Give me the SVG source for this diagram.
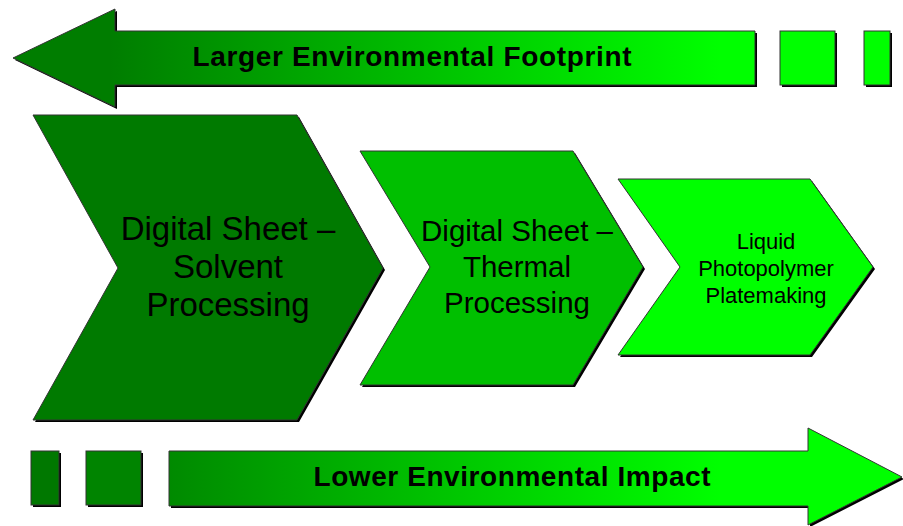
<svg xmlns="http://www.w3.org/2000/svg" xmlns:xlink="http://www.w3.org/1999/xlink" width="903" height="526" viewBox="0 0 903 526">
<defs>
<linearGradient id="gTop" gradientUnits="userSpaceOnUse" x1="110" y1="0" x2="720" y2="0">
<stop offset="0" stop-color="#007d00"/>
<stop offset="1" stop-color="#00ff00"/>
</linearGradient>
<linearGradient id="gBot" gradientUnits="userSpaceOnUse" x1="170" y1="0" x2="720" y2="0">
<stop offset="0" stop-color="#008a00"/>
<stop offset="1" stop-color="#00ff00"/>
</linearGradient>
<path id="topArrow" d="M13,58 L115,9 L115,31 L755,31 L755,85 L115,85 L115,107 Z"/>
<path id="botArrow" d="M169,451 L808,451 L808,428 L902,477 L808,525 L808,506 L169,506 Z"/>
<path id="chev1" d="M33,115 L297,115 L383,268 L297,420 L33,420 L118,268 Z"/>
<path id="chev2" d="M360,151 L573,151 L643,267 L573,385 L360,385 L430,267 Z"/>
<path id="chev3" d="M618,179 L810,179 L873,267 L810,355 L618,355 L680,267 Z"/>
</defs>
<style>
.sh{fill:#000}
.ol{stroke:#333;stroke-width:1}
.lbl{font-family:"Liberation Sans",Arial,sans-serif;fill:#000;text-anchor:middle}
.bar{font-family:"Liberation Sans",Arial,sans-serif;font-weight:bold;fill:#000;font-size:28px;text-anchor:middle}
</style>
<g id="top-arrow">
<use xlink:href="#topArrow" class="sh" transform="translate(2,2)"/>
<use xlink:href="#topArrow" fill="url(#gTop)" class="ol"/>
<rect x="782" y="33" width="55" height="54" class="sh"/>
<rect x="780" y="31" width="55" height="54" fill="#00ff00" class="ol"/>
<rect x="866" y="33" width="26" height="54" class="sh"/>
<rect x="864" y="31" width="26" height="54" fill="#00ff00" class="ol"/>
<text x="412" y="66" class="bar" textLength="439" lengthAdjust="spacing">Larger Environmental Footprint</text>
</g>
<g id="node-solvent">
<use xlink:href="#chev1" class="sh" transform="translate(2,2)"/>
<use xlink:href="#chev1" fill="#007a00" class="ol"/>
<text class="lbl" font-size="33" x="228"><tspan x="228" y="240">Digital Sheet –</tspan><tspan x="228" y="278">Solvent</tspan><tspan x="228" y="316">Processing</tspan></text>
</g>
<g id="node-thermal">
<use xlink:href="#chev2" class="sh" transform="translate(2,2)"/>
<use xlink:href="#chev2" fill="#00bf00" class="ol"/>
<text class="lbl" font-size="29.5" x="517"><tspan x="517" y="241">Digital Sheet –</tspan><tspan x="517" y="277">Thermal</tspan><tspan x="517" y="313">Processing</tspan></text>
</g>
<g id="node-liquid">
<use xlink:href="#chev3" class="sh" transform="translate(2,2)"/>
<use xlink:href="#chev3" fill="#00ff00" class="ol"/>
<text class="lbl" font-size="22" x="766"><tspan x="766" y="249">Liquid</tspan><tspan x="766" y="276">Photopolymer</tspan><tspan x="766" y="303">Platemaking</tspan></text>
</g>
<g id="bottom-arrow">
<rect x="33" y="453" width="28" height="54" class="sh"/>
<rect x="31" y="451" width="28" height="54" fill="#007800" class="ol"/>
<rect x="88" y="453" width="55" height="54" class="sh"/>
<rect x="86" y="451" width="55" height="54" fill="#008400" class="ol"/>
<use xlink:href="#botArrow" class="sh" transform="translate(2,2)"/>
<use xlink:href="#botArrow" fill="url(#gBot)" class="ol"/>
<text x="512" y="486" class="bar" textLength="397" lengthAdjust="spacing">Lower Environmental Impact</text>
</g>
<g id="connectors"/>
</svg>
